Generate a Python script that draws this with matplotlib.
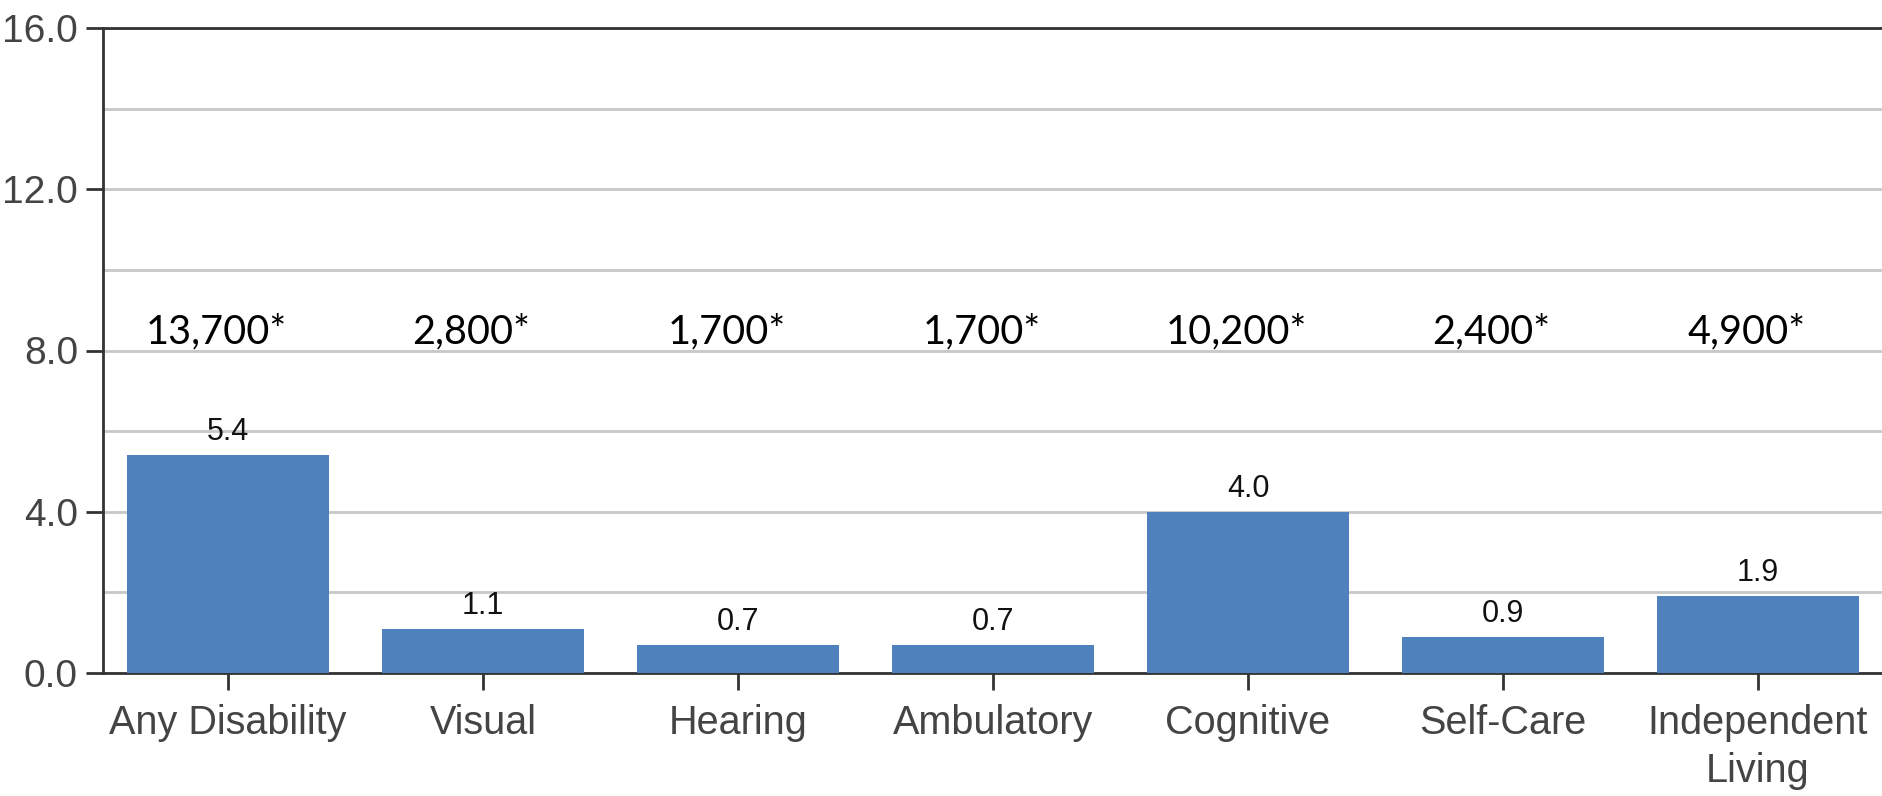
import matplotlib
matplotlib.use("Agg")
import matplotlib.pyplot as plt
import numpy as np

categories = ["Any Disability", "Visual", "Hearing", "Ambulatory", "Cognitive", "Self-Care", "Independent\nLiving"]
values = [5.4, 1.1, 0.7, 0.7, 4.0, 0.9, 1.9]
counts = ["13,700*", "2,800*", "1,700*", "1,700*", "10,200*", "2,400*", "4,900*"]
yticks = [0.0, 4.0, 8.0, 12.0, 16.0]

plt.rcParams["font.family"] = ["Liberation Sans", "DejaVu Sans"]

fig = plt.figure(figsize=(18.83, 7.96), dpi=100)
ax = fig.add_axes([103/1883, 1-673/796, 1-103/1883, (673-28)/796])

x = np.arange(len(categories))
ax.bar(x, values, width=0.793, color="#4F81BD", zorder=3)

ax.set_xlim(-0.49, len(categories) - 0.51)
ax.set_ylim(0, 16)
ax.set_yticks(yticks)
ax.set_yticklabels([f"{v:.1f}" for v in yticks])
ax.set_yticks(np.arange(0, 16.1, 2), minor=True)
ax.tick_params(axis="y", which="minor", length=0)
ax.grid(axis="y", which="both", color="#c8c8c8", linewidth=2, zorder=0)
ax.set_xticks(x)
ax.set_xticklabels(categories, linespacing=1.35)

ax.tick_params(axis="both", which="major", length=12, width=2, color="#333333",
               labelsize=28, labelcolor="#444444", pad=6)
ax.tick_params(axis="x", labelsize=28.5, pad=10)

for s in ["left", "bottom", "top"]:
    ax.spines[s].set_color("#333333")
    ax.spines[s].set_linewidth(2)
ax.spines["right"].set_visible(False)
ax.spines["top"].set_zorder(4)

for xi, v in zip(x, values):
    ax.text(xi, v + 0.2, f"{v:.1f}", ha="center", va="bottom", fontsize=22, color="#111111", zorder=5)

for xi, c in zip(x, counts):
    ax.text(xi - 0.045, 8.45, c, ha="center", va="center", fontsize=28.5, color="black",
            family=["Lato", "DejaVu Sans"], zorder=5)

fig.savefig("out.png", dpi=100)
